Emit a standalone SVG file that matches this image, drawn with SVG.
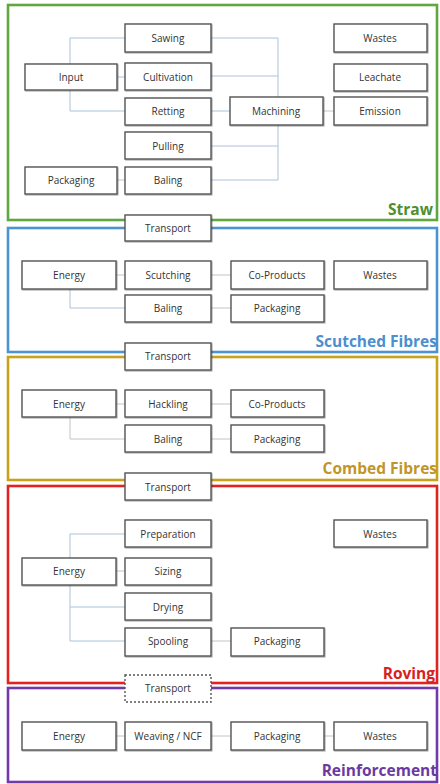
<svg xmlns="http://www.w3.org/2000/svg" width="440" height="784" viewBox="0 0 440 784">
  <style>
    .panel { fill: #ffffff; stroke-width: 2.6; }
    .box rect { fill: #ffffff; stroke: #555555; stroke-width: 1.4; }
    .box text { font-family: "Open Sans", "Liberation Sans", sans-serif; font-size: 10px; fill: #333333; text-anchor: middle; dominant-baseline: central; }
    .dashed rect { stroke-dasharray: 2 2; }
    .title { font-family: "Open Sans", "Liberation Sans", sans-serif; font-size: 15.5px; font-weight: bold; text-anchor: end; }
    .link { fill: none; stroke: #a9c4dc; stroke-width: 1; }
    .gray { stroke: #c4c4c4; }
  </style>
  <defs>
    <filter id="shadow" x="-10%" y="-20%" width="130%" height="150%">
      <feDropShadow dx="0.8" dy="0.8" stdDeviation="0.6" flood-color="#000" flood-opacity="0.35"/>
    </filter>
  </defs>
  <rect width="440" height="784" fill="#ffffff"/>

  <!-- stage panels -->
  <g id="panel-straw">
    <rect class="panel" x="8" y="5" width="429" height="215" stroke="#5ea83f"/>
    <text class="title" x="433" y="215" fill="#4e9030">Straw</text>
  </g>
  <g id="panel-scutched">
    <rect class="panel" x="8" y="228" width="429" height="124" stroke="#4b93d2"/>
    <text class="title" x="437" y="347" fill="#4b8fcf">Scutched Fibres</text>
  </g>
  <g id="panel-combed">
    <rect class="panel" x="8" y="357" width="429" height="123" stroke="#c9a21c"/>
    <text class="title" x="437" y="474" fill="#c0952a">Combed Fibres</text>
  </g>
  <g id="panel-roving">
    <rect class="panel" x="8" y="486" width="429" height="197" stroke="#e3231f"/>
    <text class="title" x="435" y="679" fill="#d82020">Roving</text>
  </g>
  <g id="panel-reinforcement">
    <rect class="panel" x="8" y="688" width="429" height="94" stroke="#7239a8"/>
    <text class="title" x="437" y="776" fill="#6a3aa2">Reinforcement</text>
  </g>

  <!-- connectors -->
  <g id="connectors">
    <!-- straw -->
    <path class="link" d="M70 38 V111 M70 38 H125 M70 111 H125 M117 77 H125"/>
    <path class="link" d="M211 38 H278 V180 M211 76 H278 M211 146 H278 M211 180 H278 M211 111 H230"/>
    <path class="link gray" d="M117 180 H125 M323 111 H334"/>
    <!-- scutched fibres -->
    <path class="link" d="M70 289 V308 H125"/>
    <path class="link gray" d="M116 275 H125 M211 275 H231 M211 308 H231"/>
    <!-- combed fibres -->
    <path class="link gray" d="M70 417 V439 H125 M116 404 H125 M211 404 H231 M211 439 H231"/>
    <!-- roving -->
    <path class="link" d="M70 534 V641 M70 534 H125 M70 607 H125 M70 641 H125"/>
    <path class="link gray" d="M116 571 H125 M211 641 H231"/>
    <!-- reinforcement -->
    <path class="link gray" d="M116 736 H125 M211 736 H231 M324 736 H334"/>
  </g>

  <!-- straw nodes -->
  <g id="straw-sawing" class="box"><rect x="125" y="24" width="86" height="28" filter="url(#shadow)"/><text x="168" y="38">Sawing</text></g>
  <g id="straw-input" class="box"><rect x="25" y="64" width="92" height="26" filter="url(#shadow)"/><text x="71" y="77">Input</text></g>
  <g id="straw-cultivation" class="box"><rect x="125" y="63" width="86" height="27" filter="url(#shadow)"/><text x="168" y="77">Cultivation</text></g>
  <g id="straw-retting" class="box"><rect x="125" y="98" width="86" height="27" filter="url(#shadow)"/><text x="168" y="111">Retting</text></g>
  <g id="straw-pulling" class="box"><rect x="125" y="132" width="86" height="27" filter="url(#shadow)"/><text x="168" y="146">Pulling</text></g>
  <g id="straw-baling" class="box"><rect x="125" y="167" width="86" height="27" filter="url(#shadow)"/><text x="168" y="180">Baling</text></g>
  <g id="straw-packaging" class="box"><rect x="25" y="167" width="92" height="27" filter="url(#shadow)"/><text x="71" y="180">Packaging</text></g>
  <g id="straw-machining" class="box"><rect x="230" y="97" width="93" height="28" filter="url(#shadow)"/><text x="276" y="111">Machining</text></g>
  <g id="straw-wastes" class="box"><rect x="334" y="24" width="93" height="28" filter="url(#shadow)"/><text x="380" y="38">Wastes</text></g>
  <g id="straw-leachate" class="box"><rect x="334" y="64" width="93" height="27" filter="url(#shadow)"/><text x="380" y="77">Leachate</text></g>
  <g id="straw-emission" class="box"><rect x="334" y="97" width="93" height="28" filter="url(#shadow)"/><text x="380" y="111">Emission</text></g>

  <g id="transport-1" class="box"><rect x="125" y="215" width="86" height="26" filter="url(#shadow)"/><text x="168" y="228">Transport</text></g>

  <!-- scutched fibres nodes -->
  <g id="scutched-energy" class="box"><rect x="22" y="261" width="94" height="28" filter="url(#shadow)"/><text x="69" y="275">Energy</text></g>
  <g id="scutched-scutching" class="box"><rect x="125" y="261" width="86" height="28" filter="url(#shadow)"/><text x="168" y="275">Scutching</text></g>
  <g id="scutched-baling" class="box"><rect x="125" y="295" width="86" height="27" filter="url(#shadow)"/><text x="168" y="308">Baling</text></g>
  <g id="scutched-coproducts" class="box"><rect x="231" y="261" width="93" height="28" filter="url(#shadow)"/><text x="277" y="275">Co-Products</text></g>
  <g id="scutched-wastes" class="box"><rect x="334" y="261" width="93" height="28" filter="url(#shadow)"/><text x="380" y="275">Wastes</text></g>
  <g id="scutched-packaging" class="box"><rect x="231" y="295" width="93" height="27" filter="url(#shadow)"/><text x="277" y="308">Packaging</text></g>

  <g id="transport-2" class="box"><rect x="125" y="343" width="86" height="27" filter="url(#shadow)"/><text x="168" y="356">Transport</text></g>

  <!-- combed fibres nodes -->
  <g id="combed-energy" class="box"><rect x="22" y="390" width="94" height="27" filter="url(#shadow)"/><text x="69" y="404">Energy</text></g>
  <g id="combed-hackling" class="box"><rect x="125" y="390" width="86" height="27" filter="url(#shadow)"/><text x="168" y="404">Hackling</text></g>
  <g id="combed-baling" class="box"><rect x="125" y="425" width="86" height="27" filter="url(#shadow)"/><text x="168" y="439">Baling</text></g>
  <g id="combed-coproducts" class="box"><rect x="231" y="390" width="93" height="27" filter="url(#shadow)"/><text x="277" y="404">Co-Products</text></g>
  <g id="combed-packaging" class="box"><rect x="231" y="425" width="93" height="27" filter="url(#shadow)"/><text x="277" y="439">Packaging</text></g>

  <g id="transport-3" class="box"><rect x="125" y="473" width="86" height="27" filter="url(#shadow)"/><text x="168" y="487">Transport</text></g>

  <!-- roving nodes -->
  <g id="roving-preparation" class="box"><rect x="125" y="520" width="86" height="27" filter="url(#shadow)"/><text x="168" y="534">Preparation</text></g>
  <g id="roving-wastes" class="box"><rect x="334" y="520" width="93" height="27" filter="url(#shadow)"/><text x="380" y="534">Wastes</text></g>
  <g id="roving-energy" class="box"><rect x="22" y="558" width="94" height="27" filter="url(#shadow)"/><text x="69" y="571">Energy</text></g>
  <g id="roving-sizing" class="box"><rect x="125" y="558" width="86" height="27" filter="url(#shadow)"/><text x="168" y="571">Sizing</text></g>
  <g id="roving-drying" class="box"><rect x="125" y="593" width="86" height="27" filter="url(#shadow)"/><text x="168" y="607">Drying</text></g>
  <g id="roving-spooling" class="box"><rect x="125" y="628" width="86" height="28" filter="url(#shadow)"/><text x="168" y="641">Spooling</text></g>
  <g id="roving-packaging" class="box"><rect x="231" y="628" width="93" height="28" filter="url(#shadow)"/><text x="277" y="641">Packaging</text></g>

  <g id="transport-4" class="box dashed"><rect x="125" y="675" width="86" height="27"/><text x="168" y="688">Transport</text></g>

  <!-- reinforcement nodes -->
  <g id="reinf-energy" class="box"><rect x="22" y="722" width="94" height="28" filter="url(#shadow)"/><text x="69" y="736">Energy</text></g>
  <g id="reinf-weaving" class="box"><rect x="125" y="722" width="86" height="28" filter="url(#shadow)"/><text x="168" y="736">Weaving / NCF</text></g>
  <g id="reinf-packaging" class="box"><rect x="231" y="722" width="93" height="28" filter="url(#shadow)"/><text x="277" y="736">Packaging</text></g>
  <g id="reinf-wastes" class="box"><rect x="334" y="722" width="93" height="28" filter="url(#shadow)"/><text x="380" y="736">Wastes</text></g>
</svg>
